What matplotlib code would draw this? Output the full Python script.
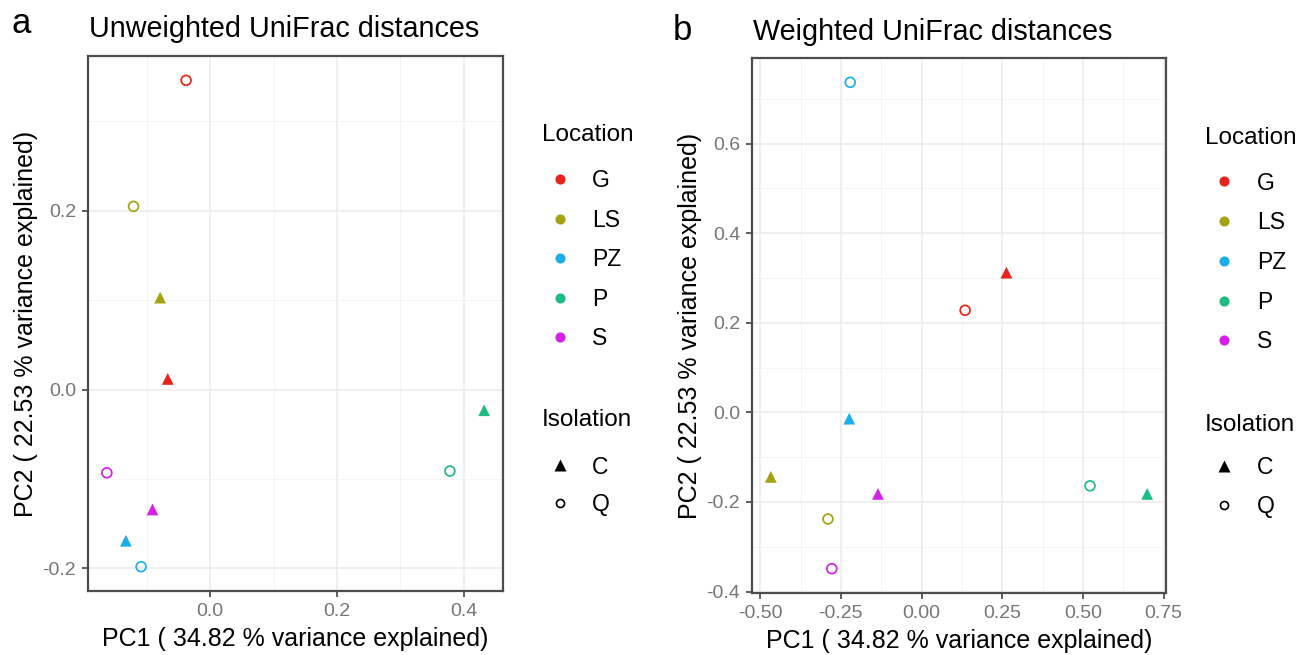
import matplotlib
matplotlib.use("Agg")
import matplotlib.pyplot as plt
from matplotlib.lines import Line2D

plt.rcParams['font.family'] = ['Liberation Sans', 'DejaVu Sans']
plt.rcParams['axes.unicode_minus'] = False

# ---------------- data ----------------
locations = ["G", "LS", "PZ", "P", "S"]
location_colors = ["#E8231C", "#A5A213", "#1CAEEB", "#1DBC83", "#D520E8"]
isolations = ["C", "Q"]

sample_location = ["G", "G", "LS", "LS", "PZ", "PZ", "P", "P", "S", "S"]
sample_isolation = ["C", "Q", "C", "Q", "C", "Q", "C", "Q", "C", "Q"]

unw_pc1 = [-0.067, -0.038, -0.079, -0.121, -0.133, -0.109, 0.432, 0.378, -0.091, -0.163]
unw_pc2 = [0.012, 0.346, 0.103, 0.205, -0.169, -0.198, -0.023, -0.091, -0.134, -0.093]

w_pc1 = [0.263, 0.135, -0.467, -0.290, -0.224, -0.221, 0.699, 0.522, -0.135, -0.278]
w_pc2 = [0.312, 0.228, -0.144, -0.238, -0.014, 0.737, -0.182, -0.164, -0.182, -0.349]

unw_xticks = [0.0, 0.2, 0.4]
unw_xminor = [-0.1, 0.1, 0.3]
unw_yticks = [-0.2, 0.0, 0.2]
unw_yminor = [-0.1, 0.1, 0.3]
w_xticks = [-0.50, -0.25, 0.00, 0.25, 0.50, 0.75]
w_xminor = [-0.375, -0.125, 0.125, 0.375, 0.625]
w_yticks = [-0.4, -0.2, 0.0, 0.2, 0.4, 0.6]
w_yminor = [-0.3, -0.1, 0.1, 0.3, 0.5, 0.7]

xlabel = "PC1 ( 34.82 % variance explained)"
ylabel = "PC2 ( 22.53 % variance explained)"
titles = ["Unweighted UniFrac distances", "Weighted UniFrac distances"]
panel_tags = ["a", "b"]

# ---------------- figure ----------------
W, H = 1311, 655
fig = plt.figure(figsize=(W / 100, H / 100), dpi=100)
fig.patch.set_facecolor("white")


def fx(px):
    return px / W


def fy(py):
    return 1 - py / H


def px_axes(left, right, top, bottom):
    return fig.add_axes([fx(left), fy(bottom), (right - left) / W, (bottom - top) / H])


col_map = dict(zip(locations, location_colors))


def draw_panel(ax, xs, ys, xt, xm, yt, ym, xfmt, yfmt):
    ax.set_facecolor("white")
    for x, y, loc, iso in zip(xs, ys, sample_location, sample_isolation):
        c = col_map[loc]
        if iso == "C":
            ax.scatter([x], [y], marker="^", s=72, color=c, edgecolors="none", zorder=3)
        else:
            ax.scatter([x], [y], marker="o", s=50, facecolors="none", edgecolors=c,
                       linewidths=1.25, zorder=3)
    xr = max(xs) - min(xs)
    yr = max(ys) - min(ys)
    ax.set_xlim(min(xs) - 0.05 * xr, max(xs) + 0.05 * xr)
    ax.set_ylim(min(ys) - 0.05 * yr, max(ys) + 0.05 * yr)
    ax.set_xticks(xt)
    ax.set_xticklabels([xfmt.format(v) for v in xt])
    ax.set_yticks(yt)
    ax.set_yticklabels([yfmt.format(v) for v in yt])
    ax.set_xticks(xm, minor=True)
    ax.set_yticks(ym, minor=True)
    ax.grid(True, which="major", color="#EBEBEB", linewidth=1.1, zorder=0)
    ax.grid(True, which="minor", color="#F3F3F3", linewidth=0.6, zorder=0)
    ax.set_axisbelow(True)
    for sp in ax.spines.values():
        sp.set_color("#4D4D4D")
        sp.set_linewidth(1.6)
    ax.tick_params(which="major", length=4.5, width=1.1, color="#333333",
                   labelsize=14, labelcolor="#767676")
    ax.tick_params(axis="x", which="major", pad=4)
    ax.tick_params(axis="y", which="major", pad=4)
    ax.tick_params(which="minor", length=0)
    ax.set_xlabel(xlabel, fontsize=18, color="black", labelpad=5)
    ax.set_ylabel(ylabel, fontsize=18, color="black", labelpad=3.5)


LEG_FS = 16.5
TITLE_FS = 17.5


def add_legend_block(title, handles, labels, title_x, title_cy, dot_x, first_cy, label_x, pitch):
    fig.text(fx(title_x), fy(title_cy), title, fontsize=TITLE_FS, ha="left", va="center")
    fs_px = LEG_FS * 100 / 72
    hl = 0.8
    row_h = 23.0
    ls = (pitch - row_h) / fs_px
    left = dot_x - hl * fs_px / 2
    htp = (label_x - left - hl * fs_px) / fs_px
    top = first_cy - row_h / 2
    leg = fig.legend(handles, labels, loc="upper left",
                     bbox_to_anchor=(fx(left), fy(top)), frameon=False,
                     fontsize=LEG_FS, borderpad=0, borderaxespad=0,
                     handlelength=hl, handletextpad=htp, labelspacing=ls)
    return leg


def add_legends(title_x, dot_x, label_x, loc_title_cy, loc_first, loc_pitch,
                iso_title_cy, iso_first, iso_pitch):
    loc_handles = [Line2D([], [], linestyle="none", marker="o", markersize=7.3,
                          markerfacecolor=c, markeredgecolor="none") for c in location_colors]
    add_legend_block("Location", loc_handles, locations, title_x, loc_title_cy,
                     dot_x, loc_first, label_x, loc_pitch)
    iso_handles = [Line2D([], [], linestyle="none", marker="^", markersize=8,
                          markerfacecolor="black", markeredgecolor="none"),
                   Line2D([], [], linestyle="none", marker="o", markersize=5.8,
                          markerfacecolor="none", markeredgecolor="black", markeredgewidth=1.2)]
    add_legend_block("Isolation", iso_handles, isolations, title_x, iso_title_cy,
                     dot_x, iso_first, label_x, iso_pitch)


# Panel a
ax1 = px_axes(88, 503, 56, 591)
draw_panel(ax1, unw_pc1, unw_pc2, unw_xticks, unw_xminor, unw_yticks, unw_yminor,
           "{:.1f}", "{:.1f}")
fig.text(fx(89), fy(37), titles[0], fontsize=20.7, ha="left", va="baseline")
fig.text(fx(11), fy(33), panel_tags[0], fontsize=25, ha="left", va="baseline")

# Panel b
ax2 = px_axes(752, 1166, 58, 593)
draw_panel(ax2, w_pc1, w_pc2, w_xticks, w_xminor, w_yticks, w_yminor,
           "{:.2f}", "{:.1f}")
fig.text(fx(753), fy(40), titles[1], fontsize=20.7, ha="left", va="baseline")
fig.text(fx(673), fy(40), panel_tags[1], fontsize=25, ha="left", va="baseline")

add_legends(542, 560, 592, 135, 181, 39.5, 420, 467, 38)
add_legends(1205, 1224, 1257, 138, 183, 39.75, 425, 468, 39)

fig.savefig("out.png", dpi=100, facecolor="white")
